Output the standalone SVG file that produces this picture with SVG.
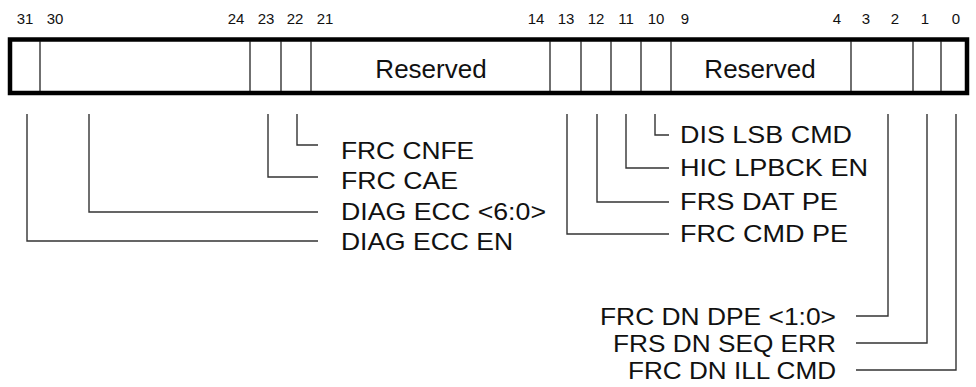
<svg xmlns="http://www.w3.org/2000/svg" width="976" height="387" viewBox="0 0 976 387">
<style>
.bit{font-family:"Liberation Sans",Arial,sans-serif;font-size:15px;fill:#111;text-anchor:middle}
.res{font-family:"Liberation Sans",Arial,sans-serif;font-size:26px;fill:#111;text-anchor:middle}
.lbl{font-family:"Liberation Sans",Arial,sans-serif;font-size:24px;fill:#111}
.lblr{font-family:"Liberation Sans",Arial,sans-serif;font-size:24px;fill:#111;text-anchor:end}
.div{stroke:#111;stroke-width:1.2;fill:none}
.conn{stroke:#333;stroke-width:1.4;fill:none}
</style>
<rect width="976" height="387" fill="#fff"/>
<g id="register">
<rect x="10" y="39.5" width="957" height="53.5" fill="#fff" stroke="#000" stroke-width="4.5"/>
<path class="div" d="M40 41V91M250 41V91M281 41V91M311 41V91M550 41V91M581 41V91M611 41V91M641 41V91M671 41V91M851 41V91M913 41V91M941 41V91"/>
<text class="res" x="431" y="78">Reserved</text>
<text class="res" x="760" y="78">Reserved</text>
</g>
<g id="bitnumbers">
<text class="bit" x="25" y="24">31</text>
<text class="bit" x="55" y="24">30</text>
<text class="bit" x="236" y="24">24</text>
<text class="bit" x="266" y="24">23</text>
<text class="bit" x="295" y="24">22</text>
<text class="bit" x="325" y="24">21</text>
<text class="bit" x="536" y="24">14</text>
<text class="bit" x="566" y="24">13</text>
<text class="bit" x="596" y="24">12</text>
<text class="bit" x="626" y="24">11</text>
<text class="bit" x="656" y="24">10</text>
<text class="bit" x="685" y="24">9</text>
<text class="bit" x="837" y="24">4</text>
<text class="bit" x="866" y="24">3</text>
<text class="bit" x="895" y="24">2</text>
<text class="bit" x="925" y="24">1</text>
<text class="bit" x="956" y="24">0</text>
</g>
<g id="connectors">
<path class="conn" d="M297 114V145H318"/>
<path class="conn" d="M268 114V177H318"/>
<path class="conn" d="M89 114V212H318"/>
<path class="conn" d="M27 114V241H318"/>
<path class="conn" d="M655 114V135H669"/>
<path class="conn" d="M626 114V168H669"/>
<path class="conn" d="M597 114V202H669"/>
<path class="conn" d="M567 114V234H669"/>
<path class="conn" d="M888 114V316H856"/>
<path class="conn" d="M927 114V343H856"/>
<path class="conn" d="M956 114V370H856"/>
</g>
<g id="labels-left">
<text class="lbl" x="341" y="159" textLength="133" lengthAdjust="spacingAndGlyphs">FRC CNFE</text>
<text class="lbl" x="341" y="189" textLength="117" lengthAdjust="spacingAndGlyphs">FRC CAE</text>
<text class="lbl" x="341" y="220" textLength="205" lengthAdjust="spacingAndGlyphs">DIAG ECC &lt;6:0&gt;</text>
<text class="lbl" x="341" y="250" textLength="172" lengthAdjust="spacingAndGlyphs">DIAG ECC EN</text>
</g>
<g id="labels-mid">
<text class="lbl" x="680" y="143" textLength="172" lengthAdjust="spacingAndGlyphs">DIS LSB CMD</text>
<text class="lbl" x="680" y="176" textLength="188" lengthAdjust="spacingAndGlyphs">HIC LPBCK EN</text>
<text class="lbl" x="680" y="210" textLength="158" lengthAdjust="spacingAndGlyphs">FRS DAT PE</text>
<text class="lbl" x="680" y="242" textLength="168" lengthAdjust="spacingAndGlyphs">FRC CMD PE</text>
</g>
<g id="labels-right">
<text class="lblr" x="836" y="325" textLength="236" lengthAdjust="spacingAndGlyphs">FRC DN DPE &lt;1:0&gt;</text>
<text class="lblr" x="836" y="352" textLength="223" lengthAdjust="spacingAndGlyphs">FRS DN SEQ ERR</text>
<text class="lblr" x="836" y="379" textLength="208" lengthAdjust="spacingAndGlyphs">FRC DN ILL CMD</text>
</g>
</svg>
